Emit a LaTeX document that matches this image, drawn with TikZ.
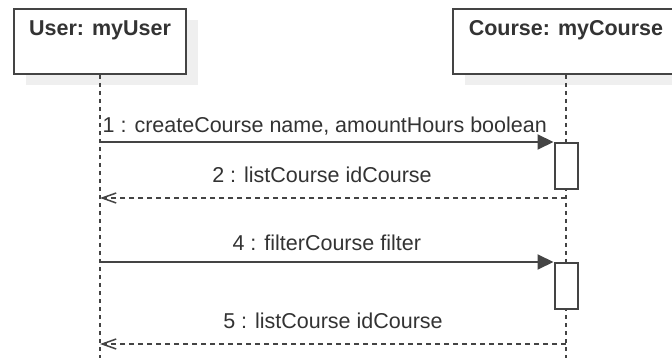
\documentclass[tikz,border=0pt]{standalone}
\usepackage{fontspec}
\setmainfont{Liberation Sans}
\usetikzlibrary{arrows.meta,shadows}
\definecolor{umlink}{HTML}{333333}
\definecolor{umlline}{HTML}{444444}
\definecolor{umlshadow}{HTML}{EFEFEF}

\begin{document}
\begin{tikzpicture}[
  x=1pt,
  y=-1pt,
  every node/.style={font=\fontsize{21.5}{26}\selectfont, umlink},
  objbox/.style={draw=umlline, line width=2pt, fill=white, inner sep=0pt,
                 minimum height=65pt,
                 drop shadow={shadow xshift=12pt, shadow yshift=-11pt,
                              fill=umlshadow, opacity=1}},
  objtitle/.style={font=\fontsize{21.5}{26}\selectfont\bfseries, anchor=base,
                   inner sep=0pt},
  lifeline/.style={umlline, line width=1.5pt, dash pattern=on 4pt off 4pt},
  actbox/.style={draw=umlline, line width=2pt, fill=white, inner sep=0pt,
                 minimum width=23pt, minimum height=46pt},
  call/.style={umlline, line width=2pt, -{Triangle[length=16pt, width=15pt]}},
  reply/.style={umlline, line width=1.5pt, dash pattern=on 5pt off 4pt,
                -{Straight Barb[length=14pt, width=10pt, line width=1.5pt]}},
  msglabel/.style={anchor=base, inner sep=0pt}
]
  \useasboundingbox (0,0) rectangle (672,358);
  \clip (0,0) rectangle (672,358);

  % ---- objects ----
  \node[objbox, minimum width=172pt] (userbox)   at (100,41.5) {};
  \node[objbox, minimum width=226pt] (coursebox) at (566,41.5) {};
  \node[objtitle] (usertitle)   at ([yshift=-28pt]userbox.north)   {User: myUser};
  \node[objtitle] (coursetitle) at ([yshift=-28pt]coursebox.north) {Course: myCourse};

  % ---- lifelines ----
  \coordinate (userend)   at (100,358);
  \coordinate (courseend) at (566,358);
  \draw[lifeline] (userbox.south)   -- (userend);
  \draw[lifeline] (coursebox.south) -- (courseend);

  % ---- activations ----
  \node[actbox] (actone) at (566,166) {};
  \node[actbox] (acttwo) at (566,286) {};

  % ---- messages ----
  \draw[call] (actone.north west -| userbox.south) --
    node[msglabel, yshift=9pt, xshift=-2pt] (msgone)
      {1 : createCourse name, amountHours boolean} (actone.north west);

  \coordinate (retone) at ([yshift=-8pt]actone.south);
  \draw[reply] (retone) --
    node[msglabel, yshift=15pt, xshift=-11pt] (msgtwo)
      {2 : listCourse idCourse} (retone -| userbox.south);

  \draw[call] (acttwo.north west -| userbox.south) --
    node[msglabel, yshift=11pt] (msgfour)
      {4 : filterCourse filter} (acttwo.north west);

  \coordinate (rettwo) at ([yshift=-34pt]acttwo.south);
  \draw[reply] (rettwo) --
    node[msglabel, yshift=16pt] (msgfive)
      {5 : listCourse idCourse} (rettwo -| userbox.south);
\end{tikzpicture}
\end{document}
